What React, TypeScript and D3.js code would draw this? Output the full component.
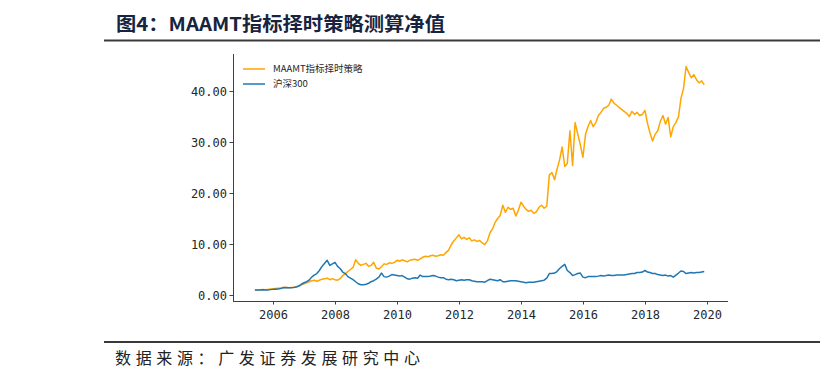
import { useMemo } from 'react'
import * as d3 from 'd3'

const W = 832
const H = 372
const BOX = { left: 233, right: 728, top: 54, bottom: 301 }

const TITLE = '图4：MAAMT指标择时策略测算净值'
const SOURCE = '数据来源：广发证券发展研究中心'
const SERIES_NAMES = ['MAAMT指标择时策略', '沪深300']
const SERIES_COLORS = ['#ffa500', '#1f77b4']

// monthly net values, first point Jun 2005
const START = new Date(2005, 5, 1)

const strategy = [
  1.0, 1.0, 1.05, 1.1, 1.05, 1.1, 1.15,
  1.2, 1.25, 1.3, 1.35, 1.5, 1.45, 1.4, 1.45, 1.5, 1.6, 1.8, 2.0,
  2.2, 2.4, 2.6, 2.8, 2.9, 2.7, 2.9, 3.1, 3.2, 3.3, 3.0, 3.2,
  3.0, 2.9, 3.2, 3.8, 4.2, 4.6, 5.0, 5.4, 6.9, 6.2, 5.8, 6.0,
  6.2, 5.6, 5.8, 6.4, 5.3, 5.1, 5.5, 6.1, 6.0, 6.3, 6.2, 6.4,
  6.8, 6.6, 6.9, 6.7, 6.5, 6.8, 6.9, 7.0, 6.8, 7.1, 7.4, 7.6,
  7.5, 7.7, 7.8, 7.6, 7.7, 7.9, 7.8, 8.3, 8.8, 9.8, 10.6, 11.2,
  11.8, 11.0, 11.3, 10.9, 11.2, 10.6, 10.8, 10.5, 10.7, 10.2, 9.9, 10.6,
  12.2, 13.0, 14.2, 15.0, 15.6, 17.6, 16.2, 17.2, 16.8, 17.0, 15.5, 16.6,
  18.2, 17.4, 16.8, 16.4, 16.6, 16.0, 16.3, 17.2, 17.6, 17.0, 17.4, 23.5,
  24.0, 22.6, 24.6, 26.5, 29.0, 25.2, 25.8, 32.2, 25.4, 33.8, 31.6, 29.5,
  27.0, 31.5, 33.0, 34.2, 33.0, 33.8, 35.2, 35.8, 36.6, 36.8, 37.2, 38.4,
  37.6, 37.2, 36.8, 36.4, 36.0, 35.6, 35.0, 36.0, 35.4, 35.8, 35.2, 35.4,
  36.2, 33.6, 31.8, 30.2, 31.5, 32.2, 34.0, 35.2, 33.5, 34.8, 31.0, 33.0,
  33.8, 35.0, 38.5, 40.5, 44.8, 43.6, 42.6, 43.2, 42.2, 41.6, 42.0, 41.2,
]

const hs300 = [
  1.0, 0.98, 1.0, 1.02, 0.98, 1.0, 1.05,
  1.1, 1.12, 1.15, 1.25, 1.4, 1.45, 1.4, 1.42, 1.48, 1.55, 1.75, 2.1,
  2.4, 2.6, 2.9, 3.5, 3.9, 4.2, 4.8, 5.6, 6.2, 6.8, 5.8, 6.1,
  6.4, 5.6, 5.2, 4.5, 4.2, 3.6, 3.3, 3.0, 2.6, 2.2, 2.0, 2.0,
  2.1, 2.3, 2.6, 2.8, 3.1, 3.5, 4.3, 3.6, 3.5, 3.7, 4.0, 3.9,
  3.8, 3.7, 3.8, 3.5, 3.2, 3.1, 3.3, 3.4, 3.3, 3.9, 3.6, 3.6,
  3.6, 3.7, 3.8, 3.7, 3.5, 3.4, 3.4, 3.1, 3.0, 3.1, 3.0, 2.8,
  2.9, 3.0, 2.9, 3.0, 3.0, 2.8, 2.7, 2.6, 2.6, 2.6, 2.5, 2.8,
  3.1, 3.0, 2.9, 2.8, 3.0, 2.6, 2.6, 2.7, 2.8, 2.8, 2.8, 2.7,
  2.6, 2.5, 2.4, 2.5, 2.5, 2.5, 2.6, 2.7, 2.8, 2.9, 3.3, 4.2,
  4.2, 4.3, 4.6, 5.2, 5.6, 6.0, 4.8, 4.4, 3.8, 4.0, 4.2, 4.3,
  3.5, 3.4, 3.6, 3.6, 3.6, 3.6, 3.7, 3.8, 3.7, 3.8, 3.9, 3.8,
  3.8, 3.9, 3.9, 3.9, 3.9, 4.0, 4.1, 4.2, 4.2, 4.4, 4.4, 4.5,
  4.8, 4.5, 4.4, 4.2, 4.2, 4.0, 3.9, 3.8, 3.9, 3.7, 3.8, 3.5,
  3.9, 4.3, 4.7, 4.6, 4.2, 4.3, 4.4, 4.3, 4.4, 4.4, 4.5, 4.6,
]

const yTicks = [0, 10, 20, 30, 40]

export default function App() {
  const { x, y, paths, xTicks } = useMemo(() => {
    const x = d3.scaleTime()
      .domain([new Date(2004, 8, 16), new Date(2020, 8, 6)])
      .range([BOX.left, BOX.right])
    const y = d3.scaleLinear()
      .domain([-1.18, 47.25])
      .range([BOX.bottom, BOX.top])

    const line = d3.line<number>()
      .x((_, i) => x(d3.timeMonth.offset(START, i)))
      .y(d => y(d))

    const paths = [strategy, hs300].map(s => line(s) as string)
    const xTicks = x.ticks(d3.timeYear.every(2) as d3.TimeInterval)
    return { x, y, paths, xTicks }
  }, [])

  const fmt = d3.format('.2f')
  const tickFont = '"DejaVu Sans Mono", monospace'
  const cjk = '"Noto Sans CJK SC", sans-serif'

  return (
    <div>
      <style>{'body{margin:0}'}</style>
      <svg width={W} height={H} style={{ display: 'block', background: '#fff' }}>
        {/* header */}
        <text x={116} y={31} fontFamily={cjk} fontWeight="bold" fontSize={19}
          fill="#17243f" textLength={329} lengthAdjust="spacingAndGlyphs">
          {TITLE}
        </text>
        <line x1={104} x2={820} y1={40.5} y2={40.5} stroke="#3a3a3a" strokeWidth={2} />

        {/* series */}
        {paths.map((d, i) => (
          <path key={i} d={d} fill="none" stroke={SERIES_COLORS[i]}
            strokeWidth={1.5} strokeLinejoin="round" />
        ))}

        {/* spines */}
        <line x1={BOX.left + 0.5} x2={BOX.left + 0.5} y1={BOX.top} y2={BOX.bottom}
          stroke="#404040" strokeWidth={1} />
        <line x1={BOX.left} x2={BOX.right} y1={BOX.bottom + 0.5} y2={BOX.bottom + 0.5}
          stroke="#404040" strokeWidth={1} />

        {/* y axis */}
        {yTicks.map(t => (
          <g key={t} transform={`translate(0,${Math.round(y(t)) + 0.5})`}>
            <line x1={BOX.left - 3.5} x2={BOX.left} stroke="#404040" />
            <text x={BOX.left - 6} dy="0.35em" textAnchor="end" fontFamily={tickFont}
              fontSize={12} fill="#262626">{fmt(t)}</text>
          </g>
        ))}

        {/* x axis */}
        {xTicks.map(t => (
          <g key={+t} transform={`translate(${Math.round(x(t)) + 0.5},${BOX.bottom})`}>
            <line y1={0} y2={3.5} stroke="#404040" />
            <text y={18} textAnchor="middle" fontFamily={tickFont}
              fontSize={12} fill="#262626">{d3.timeFormat('%Y')(t)}</text>
          </g>
        ))}

        {/* legend */}
        {SERIES_NAMES.map((name, i) => (
          <g key={name} transform={`translate(243,${69 + i * 15})`}>
            <line x1={0} x2={22} stroke={SERIES_COLORS[i]} strokeWidth={1.5} />
            <text x={30} dy="0.35em" fontFamily={cjk} fontSize={9.5} fill="#262626">{name}</text>
          </g>
        ))}

        {/* footer */}
        <line x1={104} x2={820} y1={342} y2={342} stroke="#3a3a3a" strokeWidth={2} />
        <text x={115} y={364} fontFamily={cjk} fontSize={16} fill="#222"
          textLength={305} lengthAdjust="spacing">
          {SOURCE}
        </text>
      </svg>
    </div>
  )
}
